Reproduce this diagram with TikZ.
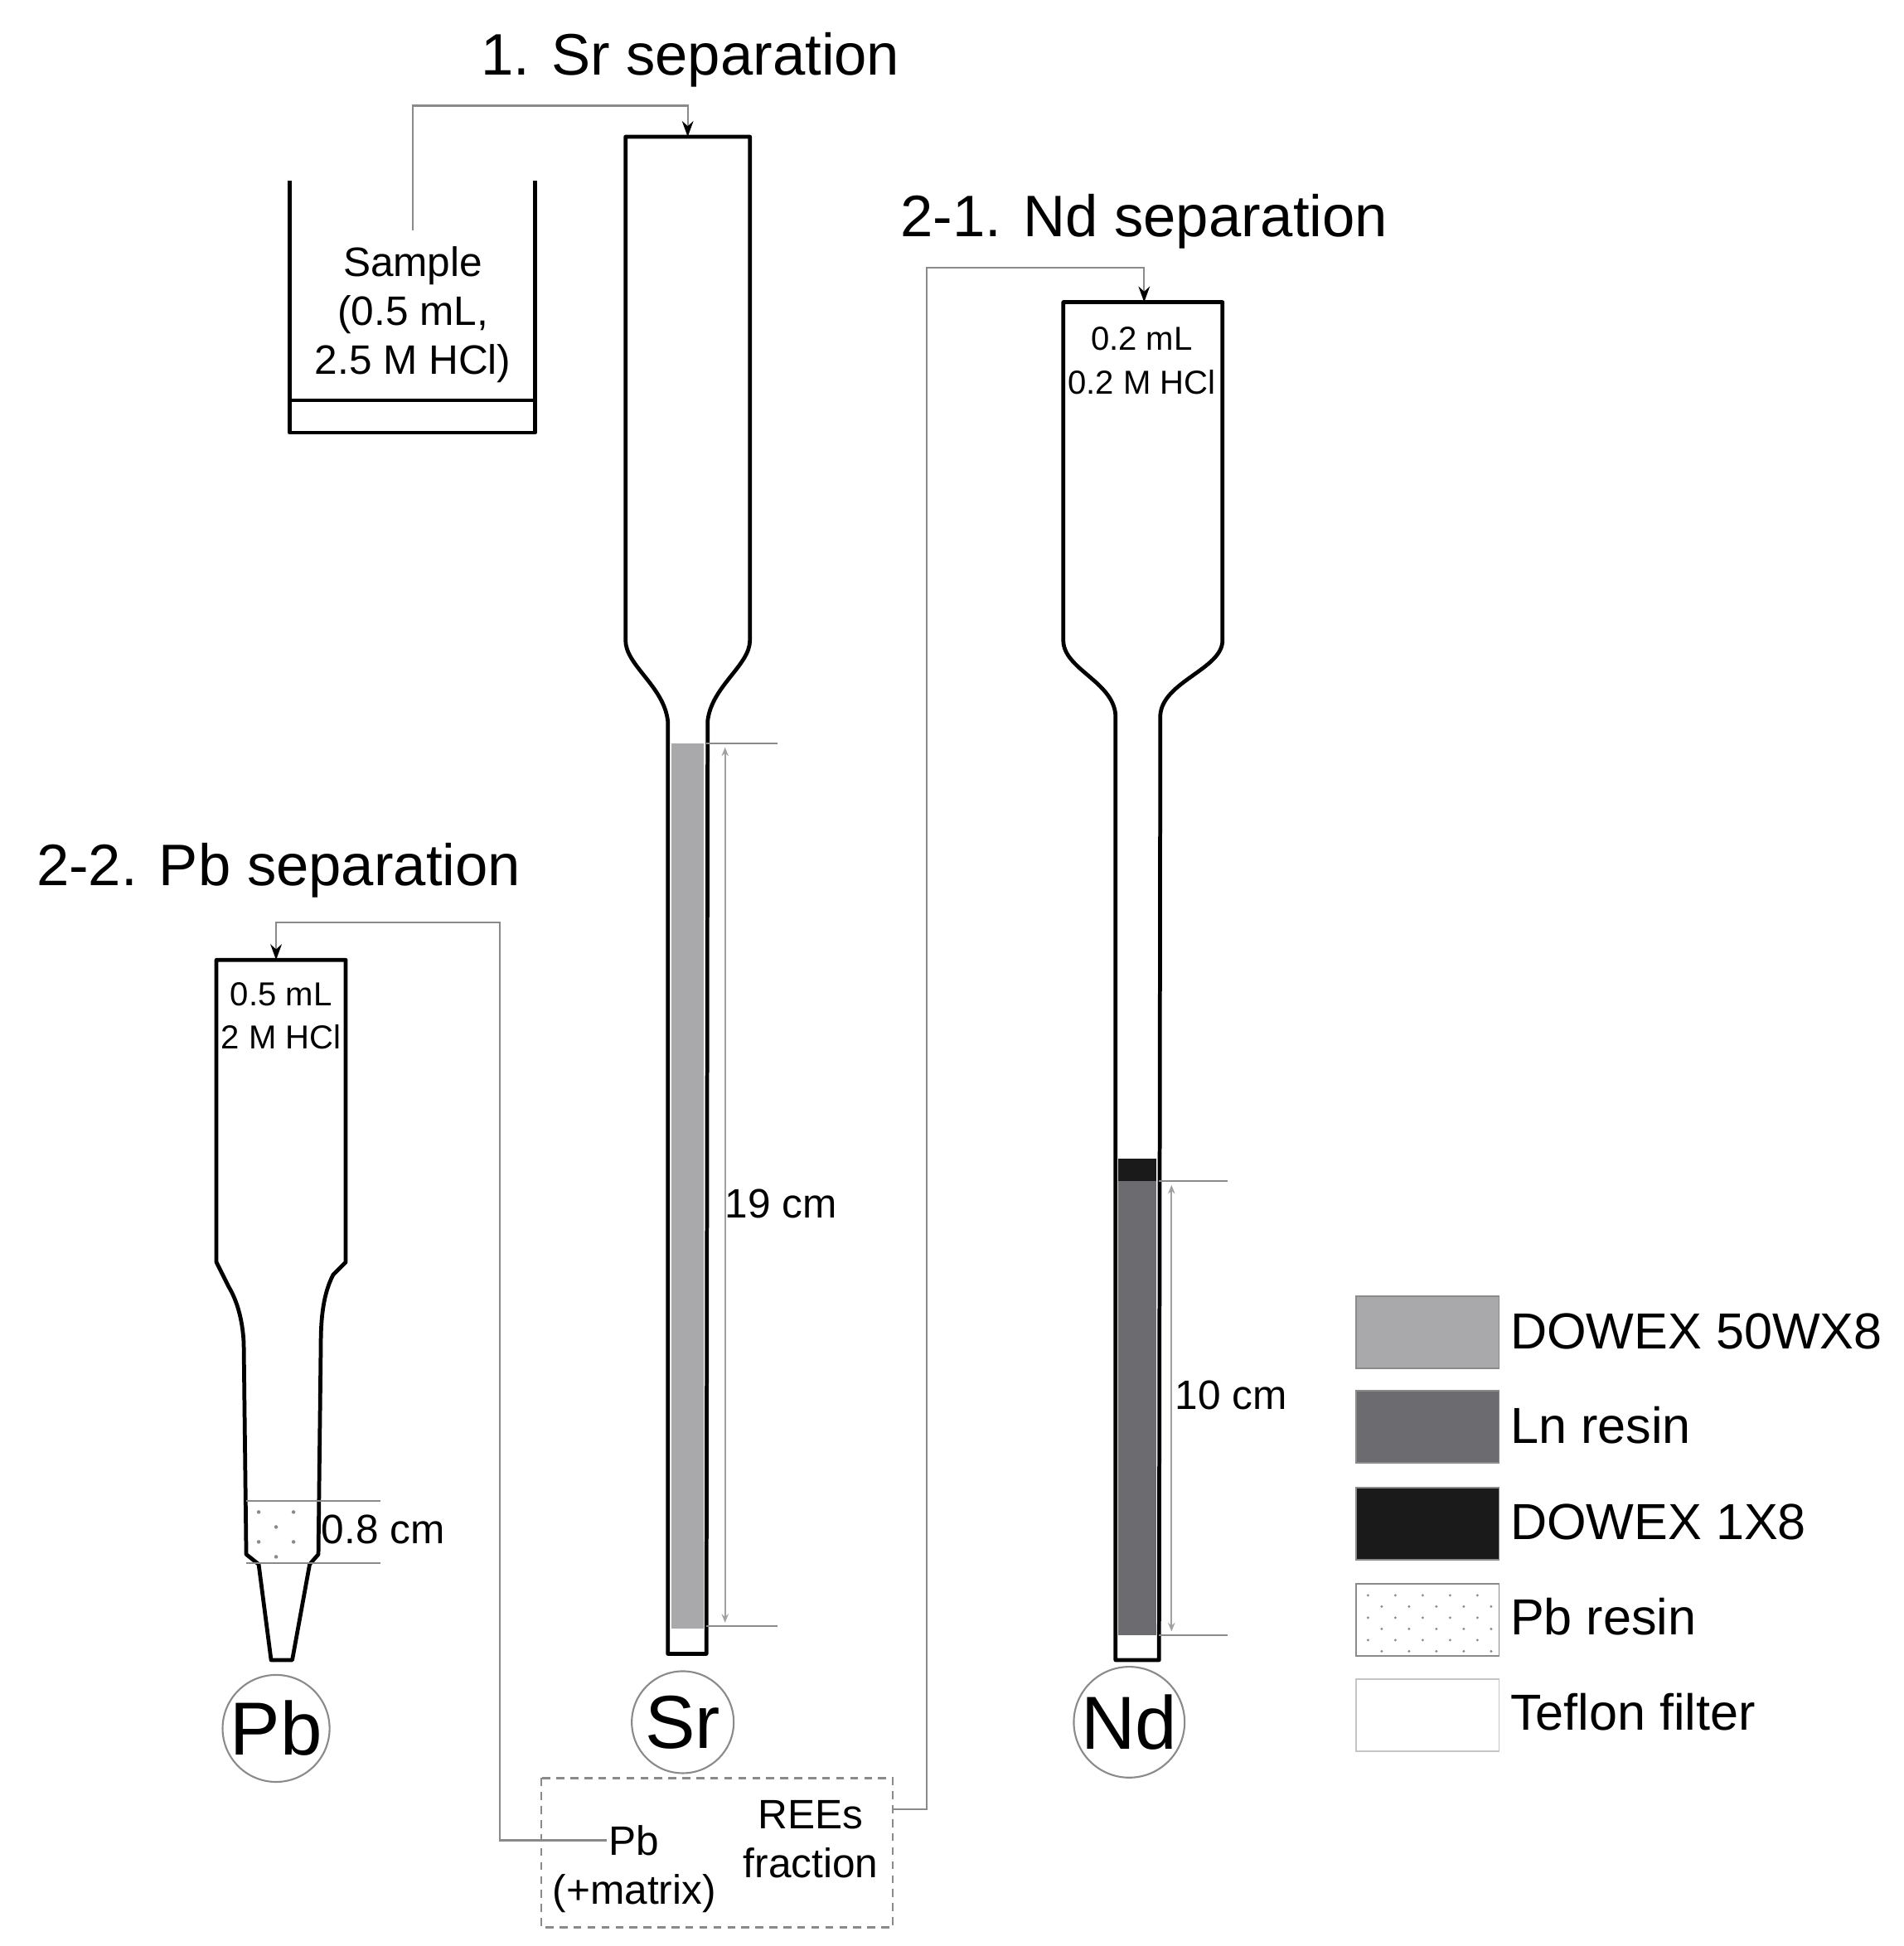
\documentclass[tikz,border=0pt]{standalone}
\usepackage{fontspec}
\setmainfont{Liberation Sans}
\usetikzlibrary{arrows.meta}
\definecolor{lg}{HTML}{A9A9AB}
\definecolor{dg}{HTML}{6B6B70}
\definecolor{bk}{HTML}{1A1A1A}
\definecolor{ln}{HTML}{8A8A8A}
\begin{document}
\begin{tikzpicture}[x=0.05cm,y=-0.05cm,
  col/.style={draw=black,line width=4.5pt,line join=round},
  conn/.style={draw=ln,line width=2pt},
  arr/.style={conn,-{Stealth[length=18pt,width=13pt,black]}},
  dim/.style={draw=ln,line width=1.8pt},
  dimarr/.style={draw=ln!80,line width=1.8pt,{Stealth[length=10pt,width=8pt]}-{Stealth[length=10pt,width=8pt]}},
  ttl/.style={font=\fontsize{67}{72}\selectfont},
  lab/.style={font=\fontsize{47}{56}\selectfont,align=center},
  small/.style={font=\fontsize{38}{50}\selectfont,align=center},
  leg/.style={font=\fontsize{58}{64}\selectfont,anchor=west},
  circ/.style={circle,draw=ln,line width=2pt,minimum size=4.1cm,inner sep=0pt,font=\fontsize{86}{90}\selectfont},
  legbox/.style={minimum width=115*0.05cm,minimum height=58*0.05cm,inner sep=0pt,draw=ln,line width=1.5pt}]
\useasboundingbox (0,0) rectangle (1531,1565);
% titles
\node[ttl] (t1) at (555,48) {1. Sr separation};
\node[ttl] (t2) at (920,178) {2-1. Nd separation};
\node[ttl] (t3) at (224,700) {2-2. Pb separation};
% beaker
\draw[col] (233,145) -- (233,348) -- (430,348) -- (430,145);
\draw[col] (233,322) -- (430,322);
\node[lab] (sample) at (332,253) {Sample\\(0.5 mL,\\2.5 M HCl)};
\coordinate (sb) at (332,185);
% Sr column
\fill[lg] (540,598) rectangle (566,1310);
\draw[col] (503,110) -- (603,110) -- (603,515) .. controls (603,535) and (572,552) .. (569,580) -- (568,1330) -- (537,1330) -- (537,580) .. controls (534,552) and (503,535) .. (503,515) -- cycle;
\coordinate (srtop) at (553,110);
\draw[arr] (sb) |- (553,85) -- (srtop);
\draw[dim] (568,598) -- (625,598) (568,1308) -- (625,1308);
\draw[dimarr] (583,601) -- (583,1305);
\node[lab] (d19) at (628,968) {19 cm};
\node[circ] (sr) at (549,1385) {Sr};
% Nd column
\fill[bk] (899,932) rectangle (930,950);
\fill[dg] (899,950) rectangle (930,1315);
\draw[col] (855,243) -- (983,243) -- (983,515) .. controls (983,538) and (935,548) .. (933,575) -- (932,1335) -- (897,1335) -- (897,575) .. controls (895,548) and (855,538) .. (855,515) -- cycle;
\node[small] (ndtxt) at (918,290) {0.2 mL\\0.2 M HCl};
\coordinate (ndtop) at (920,243);
\draw[dim] (932,950) -- (987,950) (932,1315) -- (987,1315);
\draw[dimarr] (942,953) -- (942,1312);
\node[lab] (d10) at (990,1122) {10 cm};
\node[circ] (nd) at (908,1385) {Nd};
% Pb column
\begin{scope}
\clip (199,1207) rectangle (255,1257);
\foreach \xx/\yy in {208/1216,236/1216,222/1228,208/1240,236/1240,222/1252}
  \fill[ln] (\xx,\yy) circle (1.5);
\end{scope}
\draw[col] (174,772) -- (278,772) -- (278,1015) -- (268,1025) .. controls (260,1040) and (258,1060) .. (258,1080) -- (256,1250) -- (249,1258) -- (235,1335) -- (218,1335) -- (208,1258) -- (198,1250) -- (196,1080) .. controls (195,1060) and (190,1045) .. (184,1035) -- (174,1015) -- cycle;
\draw[dim] (198,1207) -- (306,1207) (198,1257) -- (306,1257);
\node[lab,anchor=west] (d08) at (256,1230) {0.8 cm};
\node[small] (pbtxt) at (226,817) {0.5 mL\\2 M HCl};
\coordinate (pbtop) at (222,772);
\node[circ] (pb) at (222,1390) {Pb};
% dashed box
\draw[draw=ln,line width=2pt,dash pattern=on 9pt off 7pt] (435,1430) rectangle (718,1550);
\node[lab] (pbm) at (510,1503) {Pb\\(+matrix)};
\node[lab] (ree) at (652,1479) {REEs\\fraction};
\draw[arr] (488,1480) -- (402,1480) |- (222,742) -- (pbtop);
\draw[arr] (718,1455) -- (745,1455) |- (920,215) -- (ndtop);
% legend
\node[legbox,fill=lg,anchor=north west] (l1) at (1090,1042) {};
\node[legbox,fill=dg,anchor=north west] (l2) at (1090,1118) {};
\node[legbox,fill=bk,anchor=north west] (l3) at (1090,1196) {};
\node[legbox,fill=white,anchor=north west] (l4) at (1090,1273) {};
\node[legbox,fill=white,draw=ln!50,anchor=north west] (l5) at (1090,1350) {};
\foreach \xx in {1100,1122,1144,1166,1188}
  \foreach \yy in {1283,1301,1319}
    \fill[ln] (\xx,\yy) circle (1.1) (\xx+11,\yy+9) circle (1.1);
\node[leg] (tl1) at (1212,1071) {DOWEX 50WX8};
\node[leg] (tl2) at (1212,1146) {Ln resin};
\node[leg] (tl3) at (1212,1224) {DOWEX 1X8};
\node[leg] (tl4) at (1212,1300) {Pb resin};
\node[leg] (tl5) at (1212,1377) {Teflon filter};
\end{tikzpicture}
\end{document}
